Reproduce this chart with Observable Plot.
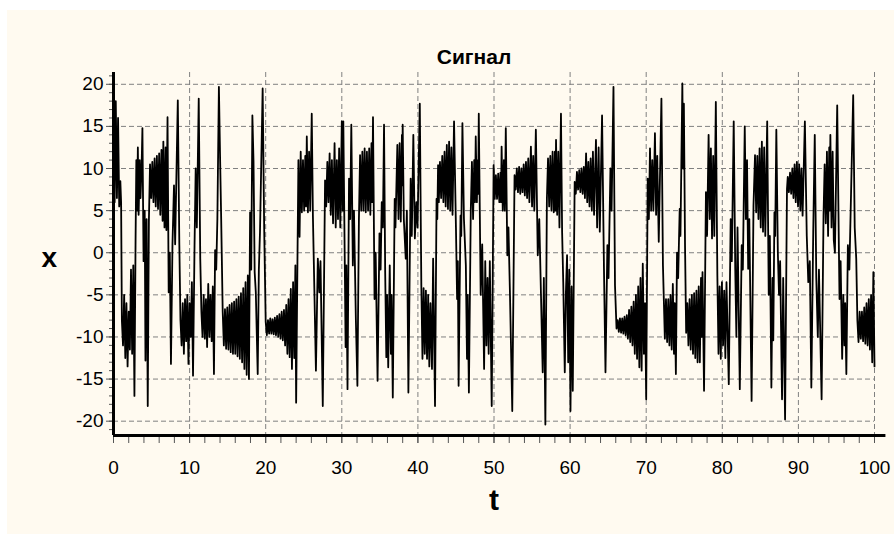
<!DOCTYPE html>
<html><head><meta charset="utf-8">
<script src="https://cdn.jsdelivr.net/npm/d3@7"></script>
<script src="https://cdn.jsdelivr.net/npm/@observablehq/plot@0.6"></script>
<style>
html,body{margin:0;padding:0;background:#fff;}
#panel{position:absolute;left:7px;top:10px;width:887px;height:524px;background:#fffaf0;}
#chart{position:absolute;left:0;top:0;}
</style></head><body>
<div id="panel"></div>
<div id="chart"></div>
<script>
const titleText = "Сигнал";
const xLabel = "t";
const yLabel = "x";
const xMajorTicks = [0,10,20,30,40,50,60,70,80,90,100];
const xMinorTicks = [0,2,4,6,8,10,12,14,16,18,20,22,24,26,28,30,32,34,36,38,40,42,44,46,48,50,52,54,56,58,60,62,64,66,68,70,72,74,76,78,80,82,84,86,88,90,92,94,96,98,100];
const xGridTicks = [10,20,30,40,50,60,70,80,90,100];
const yMajorTicks = [-20,-15,-10,-5,0,5,10,15,20];
const yMinorTicks = [-21,-20,-19,-18,-17,-16,-15,-14,-13,-12,-11,-10,-9,-8,-7,-6,-5,-4,-3,-2,-1,0,1,2,3,4,5,6,7,8,9,10,11,12,13,14,15,16,17,18,19,20,21];
const yDomain = [-21.7, 21.4];
const xDomain = [0, 100];

// signal extrema: [t, x]
const signalPoints = [
[0,21],[0.15,6],[0.3,18],[0.45,6.5],[0.6,16],[0.75,5.5],[0.9,8.5],[1.0,6],
[1.1,-8],[1.25,-11],[1.4,-5],[1.55,-12.5],[1.7,-6],[1.85,-13.5],[2.0,-7],[2.15,-11.5],[2.3,-2],[2.45,-12],[2.6,-1.5],[2.75,-17],
[2.9,1.5],[3.0,11],[3.1,5],[3.2,12.5],[3.3,4.5],[3.45,11],[3.55,6.5],[3.7,10.5],[3.8,14.8],[3.95,-1],[4.1,5],[4.2,-12.8],[4.35,4],[4.5,-18.2],
[4.65,3.8],[4.8,10.5],[4.95,6.5],[5.1,10.8],[5.25,6],[5.4,11.2],[5.55,5.5],[5.7,11.5],[5.85,5.2],[6.0,11.8],[6.15,4.5],[6.3,12.2],[6.45,3.8],[6.55,13.2],[6.7,3],[6.85,12.5],[6.95,2.7],[7.1,16.1],[7.25,-4.7],[7.4,0],[7.55,-13.2],[7.75,1],[7.95,8],[8.1,1],[8.45,18.1],[8.65,1],
[8.8,-8],[8.95,-11],[9.1,-6],[9.25,-12],[9.4,-5.5],[9.55,-10.5],[9.7,-5],[9.85,-13.2],[10.0,-6],[10.15,-10],[10.3,-3.5],[10.45,-14.6],[10.65,1],[10.8,10],[10.95,3],[11.2,18.3],[11.4,-0.7],[11.55,-7],
[11.7,-10],[11.85,-5],[12.0,-10.2],[12.15,-5.5],[12.3,-11.2],[12.45,-3.7],[12.6,-10],[12.75,-5],[12.9,-10.5],[13.05,-4],[13.2,-14.4],[13.35,0.3],[13.5,-2],[13.65,4],[13.85,19.7],[14.0,11.6],[14.15,4],[14.35,-7],
[14.5,-11],[14.65,-6.7],[14.8,-11.4],[14.95,-6.5],[15.1,-11.5],[15.25,-6.2],[15.4,-11.8],[15.55,-6],[15.7,-12],[15.85,-5.8],[16.0,-12],[16.15,-5.5],[16.3,-12.3],[16.45,-5.2],[16.6,-12.6],[16.75,-4.8],[16.9,-13],[17.05,-4.2],[17.2,-13.8],[17.35,-3.5],[17.5,-14.5],[17.65,-2.7],[17.8,-15],[17.95,4.8],[18.1,-2],[18.25,16.3],[18.4,10.8],[18.55,-2.3],[18.7,-4.7],[18.95,-14.4],[19.1,-2],[19.25,2.5],[19.6,19.5],[19.8,2.9],[20.0,-8.2],
[20.15,-9.8],[20.3,-8],[20.45,-9.6],[20.6,-7.8],[20.75,-9.6],[20.9,-7.9],[21.05,-9.7],[21.2,-7.7],[21.35,-9.8],[21.5,-7.5],[21.65,-10],[21.8,-7.3],[21.95,-10.2],[22.1,-7],[22.25,-10.4],[22.4,-6.8],[22.55,-11],[22.7,-6.2],[22.85,-12],[23.0,-5.5],[23.15,-12.4],[23.3,-4.3],[23.45,-13.8],[23.6,-3.5],[23.75,-12.5],[23.9,-1.5],[24.0,-17.8],[24.2,1.7],
[24.3,11],[24.45,1.9],[24.6,12],[24.75,4.8],[24.9,11],[25.05,5],[25.2,11.5],[25.3,5.5],[25.4,13.8],[25.55,4.8],[25.7,12],[25.85,5],[26.05,16.5],[26.2,4.5],[26.4,-4.7],[26.6,-14],[26.85,-0.7],[27.05,-4.7],[27.2,-1],[27.5,-18.2],[27.8,8.6],[27.95,5.5],[28.1,10.8],[28.25,6],[28.4,11.8],[28.55,4.5],[28.7,11],[28.85,3.5],[29.05,13],[29.2,3],[29.35,11],[29.5,4],[29.65,12.4],[29.8,3],[30.0,15.6],[30.1,5],[30.2,15.6],
[30.4,-2],[30.5,-11.2],[30.6,-1.5],[30.75,-16.2],[30.95,8.8],[31.1,4],[31.25,15.2],[31.45,-1.5],[31.6,5],[31.85,-8],[32.05,-15.8],[32.25,4],[32.4,11.6],[32.55,5],
[32.7,12],[32.85,5],[33.0,12.4],[33.15,4.8],[33.3,12],[33.45,5],[33.6,12.4],[33.75,4.5],[33.9,13],[34.0,6],[34.1,16.1],[34.3,-5.5],[34.45,0],[34.7,-15.2],[34.95,2.3],[35.1,-2],[35.25,6],[35.4,3],[35.55,15.2],[35.7,-2.3],[35.85,-12.4],[35.95,-5],[36.1,-13.6],[36.3,-1.5],[36.45,-12],[36.55,-5],[36.7,-17.2],[36.95,6.4],[37.05,3],[37.3,12.8],[37.45,4],[37.6,13],[37.75,3.7],[37.9,14],[37.95,8],[38.0,15.2],[38.15,4],[38.4,-0.7],[38.55,5],[38.75,-16.6],[39.05,8.8],[39.2,2],[39.4,14],[39.6,1.7],[39.8,6],[39.95,3],[40.25,17.7],
[40.45,-3.9],[40.6,-12.6],[40.75,-4.2],[40.9,-12],[41.05,-4.5],[41.2,-12.6],[41.35,-5],[41.5,-13.5],[41.65,-6],[41.85,-13.8],[42.0,-0.7],[42.25,-18.2],[42.45,6.4],[42.55,4],[42.65,10.4],[42.75,6],[42.9,10.8],[43.05,6.5],[43.2,11.5],[43.35,6],[43.5,12],[43.65,5.5],[43.8,12.8],[43.95,5.2],[44.1,13.2],[44.25,5],[44.4,12.5],[44.55,4.5],[44.75,15.6],[45.0,3],[45.15,-5.5],[45.25,-1],[45.35,-15.8],[45.6,4.4],[45.7,2],[45.85,15.4],[46.05,4],[46.3,-1.5],[46.45,-12.6],[46.55,-5],[46.7,-16.6],[46.95,5],[47.1,10.8],[47.25,4],[47.4,11],[47.5,6],[47.6,13.8],[47.75,6],[47.85,11],[47.92,7],[48.0,16.5],[48.25,-5],[48.45,1],[48.7,-13.8],[48.85,-1],[49.0,-11],[49.15,-3],[49.3,-12],[49.45,-1],[49.7,-18.2],
[49.95,10.4],[50.1,6.4],[50.25,9.2],[50.4,6.4],[50.55,9.4],[50.7,6],[50.85,9.5],[50.92,6],[51.0,12.6],[51.15,5],[51.3,11],[51.42,5],[51.55,14.8],[51.75,-0.3],[51.9,3],[52.1,-5],[52.4,-18.8],[52.7,9.2],[52.85,7.5],[53.0,10],[53.15,7.2],[53.3,10.2],[53.45,7],[53.6,10],[53.75,7.2],[53.9,10.5],[54.05,6.8],[54.2,10.8],[54.35,6.5],[54.5,11.2],[54.65,6],[54.85,12.6],[55.0,5.5],[55.15,11.5],[55.3,5],[55.5,14.6],[55.75,-0.3],[55.95,4],[56.4,-14.2],[56.55,-3],[56.75,-20.4],[56.95,6.4],[57.1,11.2],
[57.25,5.5],[57.4,11.5],[57.55,5],[57.7,12],[57.85,4.8],[58.0,12],[58.07,5],[58.15,13.4],[58.3,4.5],[58.45,12],[58.6,3],[58.8,16.5],[58.95,2.5],[59.1,-3.5],[59.3,-14.2],[59.45,-4.7],[59.6,-0.3],[59.75,-13],[59.9,-2],[60.05,-18.8],[60.2,-4],[60.35,-16.4],[60.6,8.4],[60.75,7],[60.9,9.6],[61.05,7.5],[61.2,9.8],[61.35,7.2],[61.5,10],[61.65,7],[61.8,10.2],[61.95,6.5],[62.1,11.8],[62.25,6],[62.4,10.8],[62.55,5.5],[62.7,11.2],[62.85,5],[63.0,12],[63.15,4.5],[63.4,13.4],[63.55,3],[63.75,12.5],[63.9,2.5],[64.2,16.3],[64.45,-1.9],[64.65,-14.2],[64.9,0.9],[65.05,-3],[65.3,10],[65.45,5],[65.7,19.7],[65.9,-3.9],[66.1,-9],
[66.25,-8],[66.4,-9.4],[66.55,-7.8],[66.7,-9.5],[66.85,-7.8],[67.0,-9.6],[67.15,-7.6],[67.3,-9.8],[67.45,-7.4],[67.6,-10.2],[67.75,-6.8],[67.9,-10.6],[68.05,-6.4],[68.2,-11],[68.35,-5.8],[68.5,-12],[68.65,-5],[68.8,-12.6],[68.95,-4],[69.1,-13.6],[69.25,-3],[69.4,-14],[69.55,-1.3],[69.7,-12],[69.85,-6],[70.0,-17.4],[70.2,8.8],[70.35,4],[70.5,12.4],[70.65,5],[70.8,11],[70.95,5],[71.15,14.2],[71.3,4.5],[71.45,11.5],[71.65,1.3],[72.0,18.3],[72.2,-1.5],[72.45,-10.2],[72.6,-5.5],[72.75,-10.6],[72.9,-5.5],[73.05,-11],[73.2,-5],[73.35,-11.5],[73.5,-3.7],[73.65,-12],[73.75,-6],[73.9,-14.4],[74.05,0],[74.2,-3],[74.4,5.2],[74.5,2],[74.75,20.1],[74.85,10],[74.95,17.7],[75.1,1],
[75.25,-9.5],[75.4,-6],[75.55,-11],[75.7,-5.5],[75.85,-11.5],[76.0,-5],[76.15,-12],[76.3,-4.8],[76.45,-12.5],[76.6,-4.5],[76.75,-13],[76.9,-4],[77.05,-13],[77.2,-3],[77.3,-10],[77.4,-2.3],[77.6,-16.4],[77.85,7.2],[78.0,2],[78.2,14],[78.35,4],[78.5,12.4],[78.65,1.7],[78.8,11.5],[78.95,2],[79.15,17.9],[79.35,-2.7],[79.5,-12],[79.65,-4],[79.8,-12.6],[79.95,-3.5],[80.1,-11],[80.25,-4.5],[80.4,-12.5],[80.55,-3.5],[80.85,-15.6],[81.1,4],[81.25,-1],[81.5,15.6],[81.7,-1.9],[81.85,-10],[82.0,3],[82.3,-16.2],[82.55,0.9],[82.7,-2],[82.95,15],
[83.1,4],[83.25,11],[83.4,-1.9],[83.55,4],[83.85,-17.6],[84.1,5.6],[84.3,11.6],[84.45,4.8],[84.6,11.5],[84.75,4],[84.9,12.4],[85.05,3],[85.2,13.2],[85.35,2.5],[85.5,12.5],[85.65,2],[85.9,15.6],[86.1,-5],[86.25,2],[86.45,-16],[86.6,-3],[86.7,-10.4],[86.85,4.8],[86.95,2],[87.1,14.6],[87.3,0],[87.45,-5],[87.6,-1],[87.85,-17.4],[88.0,-3],[88.25,-19.8],[88.5,7.6],[88.6,9],
[88.75,7.2],[88.9,9.5],[89.05,7],[89.2,10],[89.35,6.5],[89.5,10.5],[89.65,6],[89.8,10.8],[89.95,5.5],[90.1,10.5],[90.25,5],[90.4,10],[90.55,4.4],[90.85,15.6],[91.1,2],[91.3,-3.5],[91.5,-1],[91.7,-16],[91.95,2.5],[92.15,14],[92.35,-3],[92.55,-10],[92.7,-2],[93.05,-17.4],[93.3,4.4],[93.45,10.5],[93.6,3.5],[93.75,12],[93.9,2],[94.05,12.5],[94.12,5],[94.2,14],[94.35,3],[94.5,12],[94.65,1.5],[94.8,0],[95.1,17.5],[95.4,-5.5],[95.55,-1],[95.75,-12.6],[95.9,-5],[96.05,-11],[96.15,-6],[96.3,-14.4],[96.5,0.9],[96.7,-2],[97.2,18.7],[97.4,3],[97.6,-0.7],
[97.75,-8],[97.9,-10.6],[98.05,-7],[98.2,-10.2],[98.35,-7],[98.5,-10.5],[98.65,-6.5],[98.8,-10.8],[98.95,-6],[99.1,-11],[99.25,-5.5],[99.4,-11.5],[99.55,-5],[99.7,-13],[99.85,-2.3],[100,-13.5]
];

const signal = signalPoints.map(([t, x]) => ({t, x}));
const gridStyle = {stroke: "#808080", strokeOpacity: 1, strokeWidth: 1, strokeDasharray: "5,3"};
const blank = () => "";
const plain = d => String(d);
const font = "'Liberation Sans Narrow', 'Arial Narrow', 'Liberation Sans', Arial, sans-serif";

const chart = Plot.plot({
  width: 894,
  height: 534,
  marginLeft: 113,
  marginRight: 20,
  marginTop: 72,
  marginBottom: 99,
  x: {domain: xDomain, label: null},
  y: {domain: yDomain, label: null},
  style: {background: "transparent", fontFamily: font, fontSize: "18px", color: "#000", overflow: "visible"},
  marks: [
    Plot.gridX(xGridTicks, gridStyle),
    Plot.gridY(yMajorTicks, gridStyle),
    Plot.line(signal, {x: "t", y: "x", stroke: "#000", strokeWidth: 1.8}),
    Plot.axisX(xMinorTicks, {tickSize: 8, tickFormat: blank, stroke: "#555", strokeWidth: 1}),
    Plot.axisX(xMajorTicks, {tickSize: 8, tickPadding: 17, tickFormat: plain, stroke: "#555", fill: "#000", fontSize: 19}),
    Plot.axisY(yMinorTicks, {tickSize: 4, tickFormat: blank, stroke: "#555"}),
    Plot.axisY(yMajorTicks, {tickSize: 7, tickPadding: 3, tickFormat: plain, stroke: "#555", fill: "#000", fontSize: 19}),
    Plot.ruleX([xDomain[0]], {stroke: "#000", strokeWidth: 3}),
    Plot.ruleY([yDomain[0]], {x1: xDomain[0], x2: 101.5, stroke: "#000", strokeWidth: 3}),
    Plot.text([titleText], {text: d => d, frameAnchor: "top", dx: -20, dy: -23, fontSize: 21, fontWeight: "bold", fill: "#000"}),
    Plot.text([yLabel], {text: d => d, frameAnchor: "left", dx: -72, dy: 4, fontSize: 28, fontWeight: "bold", fill: "#000", fontFamily: "'Liberation Sans', Arial, sans-serif"}),
    Plot.text([xLabel], {text: d => d, frameAnchor: "bottom", dy: 74, fontSize: 30, fontWeight: "bold", fill: "#000", fontFamily: "'Liberation Sans', Arial, sans-serif"})
  ]
});
document.getElementById("chart").appendChild(chart);
</script>
</body></html>
